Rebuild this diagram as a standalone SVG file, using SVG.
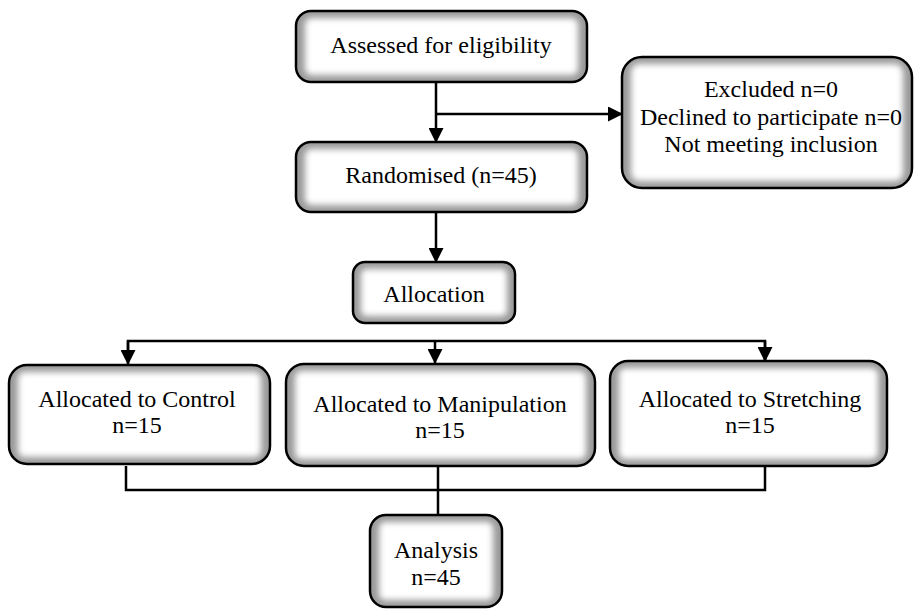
<svg xmlns="http://www.w3.org/2000/svg" width="915" height="609" viewBox="0 0 915 609">
<style>
.frame{fill:#9a9a9a;stroke:none}
.edge{fill:none;stroke:#000;stroke-width:2.5}
.inner{fill:#fff;filter:url(#soft)}
text{font-family:"Liberation Serif","Times New Roman",serif;font-size:24px;fill:#000;text-anchor:middle}
.conn line,.conn polyline{stroke:#000;stroke-width:2.5;fill:none}
</style>
<defs>
<filter id="soft" x="-20%" y="-20%" width="140%" height="140%"><feGaussianBlur stdDeviation="3"/></filter>
<marker id="arrL" markerWidth="15" markerHeight="15" refX="14" refY="7.5" orient="auto" markerUnits="userSpaceOnUse" viewBox="0 0 15 15"><path d="M0,0 L15,7.5 L0,15 z" fill="#000"/></marker>
</defs>
<g class="conn">
<line x1="436" y1="82" x2="436" y2="142" marker-end="url(#arrL)"/>
<line x1="436" y1="114" x2="622" y2="114" marker-end="url(#arrL)"/>
<line x1="436" y1="212" x2="436" y2="262" marker-end="url(#arrL)"/>
<polyline points="128,362 128,341 765,341 765,360"/>
<line x1="128" y1="341" x2="128" y2="364" marker-end="url(#arrL)"/>
<line x1="435" y1="341" x2="435" y2="363" marker-end="url(#arrL)"/>
<line x1="765" y1="341" x2="765" y2="361" marker-end="url(#arrL)"/>
<polyline points="126,466 126,490 765,490 765,466"/>
<line x1="438" y1="466" x2="438" y2="515"/>
</g>
<g id="assessed">
<rect class="frame" x="296" y="11" width="291" height="71" rx="15"/>
<rect class="inner" x="305" y="18" width="273" height="57" rx="6"/>
<rect class="edge" x="296" y="11" width="291" height="71" rx="15"/>
<text x="441" y="53">Assessed for eligibility</text>
</g>
<g id="excluded">
<rect class="frame" x="622" y="57" width="290" height="131" rx="20"/>
<rect class="inner" x="631" y="64" width="272" height="117" rx="8"/>
<rect class="edge" x="622" y="57" width="290" height="131" rx="20"/>
<text x="771" y="97">Excluded n=0</text>
<text x="771" y="125">Declined to participate n=0</text>
<text x="771" y="152">Not meeting inclusion</text>
</g>
<g id="randomised">
<rect class="frame" x="296" y="142" width="291" height="70" rx="15"/>
<rect class="inner" x="305" y="149" width="273" height="56" rx="6"/>
<rect class="edge" x="296" y="142" width="291" height="70" rx="15"/>
<text x="441" y="183">Randomised (n=45)</text>
</g>
<g id="allocation">
<rect class="frame" x="353" y="262" width="162" height="61" rx="12"/>
<rect class="inner" x="361" y="269" width="146" height="47" rx="5"/>
<rect class="edge" x="353" y="262" width="162" height="61" rx="12"/>
<text x="434" y="302">Allocation</text>
</g>
<g id="control">
<rect class="frame" x="9" y="365" width="261" height="99" rx="18"/>
<rect class="inner" x="18" y="372" width="243" height="85" rx="6"/>
<rect class="edge" x="9" y="365" width="261" height="99" rx="18"/>
<text x="137" y="407">Allocated to Control</text>
<text x="137" y="433">n=15</text>
</g>
<g id="manipulation">
<rect class="frame" x="286" y="364" width="309" height="102" rx="18"/>
<rect class="inner" x="295" y="371" width="291" height="88" rx="6"/>
<rect class="edge" x="286" y="364" width="309" height="102" rx="18"/>
<text x="440" y="412">Allocated to Manipulation</text>
<text x="440" y="438">n=15</text>
</g>
<g id="stretching">
<rect class="frame" x="610" y="361" width="277" height="105" rx="18"/>
<rect class="inner" x="619" y="368" width="259" height="91" rx="6"/>
<rect class="edge" x="610" y="361" width="277" height="105" rx="18"/>
<text x="750" y="407">Allocated to Stretching</text>
<text x="750" y="433">n=15</text>
</g>
<g id="analysis">
<rect class="frame" x="370" y="515" width="132" height="92" rx="16"/>
<rect class="inner" x="379" y="522" width="114" height="78" rx="6"/>
<rect class="edge" x="370" y="515" width="132" height="92" rx="16"/>
<text x="436" y="558">Analysis</text>
<text x="436" y="585">n=45</text>
</g>
</svg>
